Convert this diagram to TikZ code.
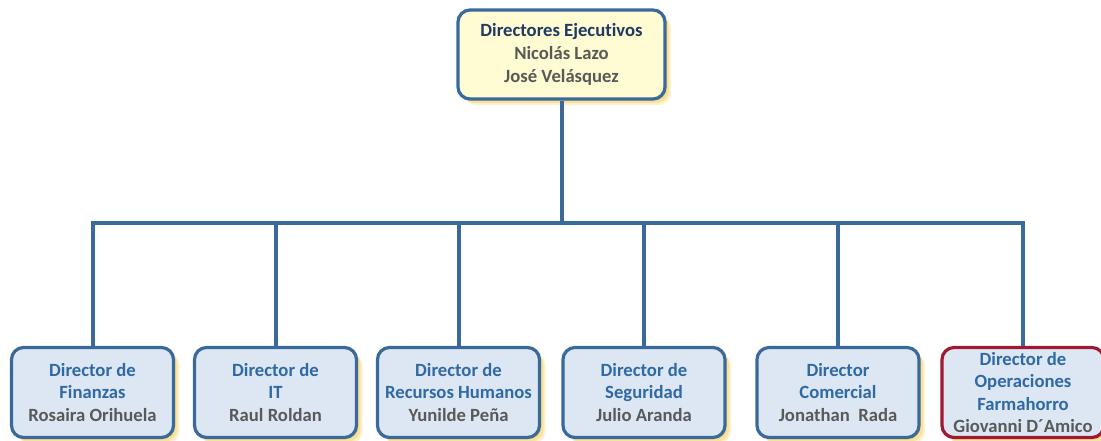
\documentclass[tikz,border=0pt]{standalone}
\usepackage{fontspec}
\setmainfont{Carlito}[Ligatures=NoCommon]
\usetikzlibrary{shadows}
\definecolor{edgeblue}{HTML}{3A6A9C}
\definecolor{edgered}{HTML}{9E1A32}
\definecolor{fillyellow}{HTML}{FFFBD2}
\definecolor{fillblue}{HTML}{DDE7F3}
\definecolor{navy}{HTML}{1F3864}
\definecolor{titleblue}{HTML}{2F69A6}
\definecolor{namegray}{HTML}{595959}
\definecolor{glowc}{HTML}{F5D36A}
\tikzset{
  glow/.style={
    drop shadow={shadow xshift=4.5pt,shadow yshift=-4.5pt,fill=glowc,opacity=.3},
    drop shadow={shadow xshift=3pt,shadow yshift=-3pt,fill=glowc,opacity=.5},
    drop shadow={shadow xshift=1.5pt,shadow yshift=-1.5pt,fill=glowc,opacity=.6}},
  box/.style={glow, draw=edgeblue, line width=2.4pt, rounded corners=9pt,
    fill=fillblue, align=center, inner sep=0pt,
    minimum width=121.5pt, minimum height=67.5pt,
    font=\fontsize{14}{16.8}\selectfont\bfseries},
  topbox/.style={box, fill=fillyellow, minimum width=155.25pt, minimum height=66.75pt,
    font=\fontsize{14}{17.4}\selectfont\bfseries},
  redbox/.style={box, draw=edgered},
  link/.style={draw=edgeblue, line width=3pt},
}
\newcommand{\nm}[1]{\textcolor{namegray}{#1}}
\newcommand{\tl}[1]{\textcolor{titleblue}{#1}}
\begin{document}
\begin{tikzpicture}[x=0.75pt,y=-0.75pt]
\useasboundingbox (0,0) rectangle (1101,440);
% top of the chart
\node[topbox] (ceo) at (561.5,54.5)
  {\textcolor{navy}{Directores Ejecutivos}\\ \nm{Nicolás Lazo}\\ \nm{José Velásquez}};
% directors
\node[box] (fin) at (92.5,392.5) {\tl{Director de}\\ \tl{Finanzas}\\ \nm{Rosaira Orihuela}};
\node[box] (it)  at (275.5,392.5) {\tl{Director de}\\ \tl{IT}\\ \nm{Raul Roldan}};
\node[box] (rh)  at (458.5,392.5) {\tl{Director de}\\ \tl{Recursos Humanos}\\ \nm{Yunilde Peña}};
\node[box] (seg) at (644,392.5) {\tl{Director de}\\ \tl{Seguridad}\\ \nm{Julio Aranda}};
\node[box] (com) at (838,392.5) {\tl{Director}\\ \tl{Comercial}\\ \nm{Jonathan\ \ Rada}};
\node[redbox] (ops) at (1023,392.5) {\tl{Director de}\\ \tl{Operaciones}\\ \tl{Farmahorro}\\ \nm{Giovanni D´Amico}};
% connectors
\coordinate (bus) at (561.5,222.5);
\draw[link] (ceo.south) -- (bus);
\draw[link] (fin.north) |- (bus) -| (ops.north);
\draw[link] (it.north) -- (it.north |- bus);
\draw[link] (rh.north) -- (rh.north |- bus);
\draw[link] (seg.north) -- (seg.north |- bus);
\draw[link] (com.north) -- (com.north |- bus);
\end{tikzpicture}
\end{document}
